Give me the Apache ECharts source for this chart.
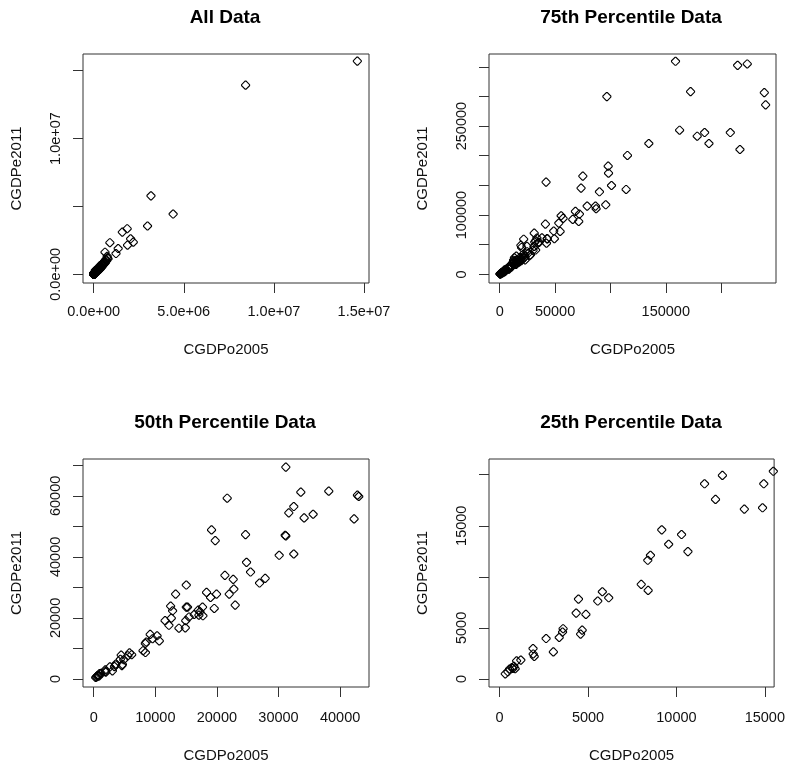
<!DOCTYPE html>
<html><head><meta charset="utf-8">
<script src="https://cdn.jsdelivr.net/npm/echarts@6/dist/echarts.min.js"></script>
<style>html,body{margin:0;padding:0;background:#fff}#c{width:788px;height:769px}</style>
</head><body><div id="c"></div>
<script>
const panelTitles = ['All Data', '75th Percentile Data', '50th Percentile Data', '25th Percentile Data'];
const xName = 'CGDPo2005';
const yName = 'CGDPe2011';

// [CGDPo2005, CGDPe2011] — countries with CGDPo2005 up to ~15,500
const smallPts = [
  [320, 500], [470, 700], [560, 980], [690, 1110], [750, 1020], [810, 1240], [880, 1000],
  [960, 1770], [1200, 1850], [1890, 2980], [1900, 2450], [1960, 2200], [2630, 3960],
  [3040, 2650], [3370, 4060], [3560, 4600], [3590, 4920], [4330, 6450], [4460, 7820],
  [4580, 4390], [4670, 4780], [4880, 6320], [5550, 7630], [5810, 8540], [6170, 7950],
  [8010, 9260], [8380, 11620], [8400, 8670], [8530, 12110], [9170, 14600], [9560, 13190],
  [10290, 14140], [10650, 12470], [11590, 19110], [12210, 17580], [12600, 19930],
  [13840, 16630], [14870, 16760], [14940, 19110], [15480, 20330],
  [12490, 23870], [12810, 22340], [13300, 27810], [15030, 30770], [15030, 23540], [15240, 23540]
];
// countries with CGDPo2005 between ~15,500 and ~44,700
const midPts = [
  [16320, 21130], [16970, 22560], [17080, 20910], [17240, 22010], [17670, 23540], [17730, 20700],
  [18320, 28360], [18970, 26720], [19130, 48840], [19570, 23100], [19730, 45330], [19940, 27810],
  [21300, 33950], [21670, 59240], [22000, 27810], [22650, 32630], [22750, 29460], [22970, 24200],
  [24650, 47300], [24810, 38220], [25460, 35040], [26920, 31430], [27840, 32960], [30110, 40520],
  [31080, 47090], [31190, 46870], [31190, 69420], [31670, 54420], [32480, 56500], [32480, 40950],
  [33620, 61210], [34160, 52780], [35620, 53980], [38160, 61540], [42270, 52450], [42810, 60230],
  [43030, 59790], [41300, 84700], [41900, 155500]
];
// countries with CGDPo2005 between ~44,700 and ~250,000
const largePts = [
  [48800, 73000], [49400, 60000], [53400, 86400], [54600, 72400], [55500, 98800], [57300, 94300],
  [66000, 92600], [68400, 106100], [71400, 89200], [72000, 101600], [73500, 145400], [75100, 165600],
  [79000, 115100], [86500, 115100], [87100, 110600], [90100, 139200], [95800, 117300], [96800, 299700],
  [98000, 182400], [98300, 170600], [101000, 149800], [114200, 143100], [115400, 200400],
  [134700, 220600], [158800, 359200], [162500, 243000], [172400, 308100], [178400, 232900],
  [185100, 239100], [189000, 220600], [208300, 239100], [214900, 352400], [217000, 210500],
  [220300, 373000], [223600, 354700], [239000, 306400], [240200, 285700]
];
// countries with CGDPo2005 above ~250,000
const hugePts = [
  [260000, 300000], [270000, 390000], [280000, 460000], [285000, 330000], [300000, 420000],
  [310000, 360000], [330000, 470000], [345000, 520000], [350000, 640000], [360000, 400000],
  [380000, 560000], [400000, 480000], [410000, 620000], [430000, 700000], [450000, 540000],
  [470000, 760000], [490000, 640000], [520000, 820000], [540000, 700000], [560000, 900000],
  [590000, 780000], [620000, 980000], [650000, 860000], [680000, 1100000], [720000, 1000000],
  [760000, 1210000], [800000, 1150000], [630000, 1630000], [750000, 1330000], [900000, 2330000],
  [1240000, 1530000], [1360000, 1900000], [1590000, 3110000], [1860000, 3360000],
  [1880000, 2150000], [2050000, 2620000], [2200000, 2370000], [2990000, 3560000],
  [3180000, 5780000], [4410000, 4440000], [8430000, 13930000], [14630000, 15700000]
];

const xTicks = [
  [0, 5e6, 1e7, 1.5e7],
  [0, 50000, 100000, 150000, 200000],
  [0, 10000, 20000, 30000, 40000],
  [0, 5000, 10000, 15000]
];
const xLabelVals = [
  [0, 5e6, 1e7, 1.5e7],
  [0, 50000, 150000],
  [0, 10000, 20000, 30000, 40000],
  [0, 5000, 10000, 15000]
];
const xLabelTexts = [
  ['0.0e+00', '5.0e+06', '1.0e+07', '1.5e+07'],
  ['0', '50000', '150000'],
  ['0', '10000', '20000', '30000', '40000'],
  ['0', '5000', '10000', '15000']
];
const yTicks = [
  [0, 5e6, 1e7, 1.5e7],
  [0, 50000, 100000, 150000, 200000, 250000, 300000, 350000],
  [0, 10000, 20000, 30000, 40000, 50000, 60000, 70000],
  [0, 5000, 10000, 15000, 20000]
];
const yLabelVals = [
  [0, 1e7],
  [0, 100000, 250000],
  [0, 20000, 40000, 60000],
  [0, 5000, 15000]
];
const yLabelTexts = [
  ['0.0e+00', '1.0e+07'],
  ['0', '100000', '250000'],
  ['0', '20000', '40000', '60000'],
  ['0', '5000', '15000']
];

// plot-region extents (R adds 4% padding on each side)
const xRange = [[-591000, 15277000], [-9645, 249560], [-1735, 44690], [-600, 15525]];
const yRange = [[-637000, 16225000], [-14590, 371500], [-2630, 72080], [-786, 21536]];

const panelData = [
  smallPts.concat(midPts, largePts, hugePts),
  smallPts.concat(midPts, largePts),
  smallPts.concat(midPts),
  smallPts
];

const grids = [
  {left: 83, top: 54, width: 286, height: 229},
  {left: 489, top: 54, width: 287, height: 229},
  {left: 83, top: 459, width: 286, height: 228},
  {left: 489, top: 459, width: 287, height: 228}
];
const xLabelMargin = [21, 21, 23, 23];
const xNameGap = [59, 59, 61, 61];
const titlePos = [[225, 8], [631, 8], [225, 413], [631, 413]];

const font = '"Liberation Sans", Arial, sans-serif';
const lineCol = '#333';
const markerPath = 'path://M3.5,0 L4.5,0 L8,3.5 L8,4.5 L4.5,8 L3.5,8 L0,4.5 L0,3.5 Z';

const option = {
  animation: false,
  backgroundColor: '#fff',
  title: panelTitles.map((t, i) => ({
    text: t, left: titlePos[i][0], top: titlePos[i][1], textAlign: 'center', padding: 0,
    textStyle: {fontFamily: font, fontSize: 19, fontWeight: 'bold', color: '#000'}
  })),
  grid: grids.map(g => Object.assign({show: true, borderColor: lineCol, borderWidth: 1, backgroundColor: 'transparent', containLabel: false}, g)),
  xAxis: grids.map((g, i) => ({
    type: 'value', gridIndex: i, min: xRange[i][0], max: xRange[i][1],
    name: xName, nameLocation: 'middle', nameGap: xNameGap[i],
    nameTextStyle: {fontFamily: font, fontSize: 15, color: '#111'},
    axisLine: {show: false, onZero: false},
    axisTick: {show: true, inside: false, length: 10, customValues: xTicks[i], lineStyle: {color: lineCol, width: 1}},
    axisLabel: {show: true, margin: xLabelMargin[i], customValues: xLabelVals[i], fontFamily: font, fontSize: 14.5, color: '#111',
      formatter: v => { const k = xLabelVals[i].indexOf(v); return k >= 0 ? xLabelTexts[i][k] : ''; }},
    splitLine: {show: false}
  })),
  yAxis: grids.map((g, i) => ({
    type: 'value', gridIndex: i, min: yRange[i][0], max: yRange[i][1],
    name: yName, nameLocation: 'middle', nameGap: 59,
    nameTextStyle: {fontFamily: font, fontSize: 15, color: '#111'},
    axisLine: {show: false, onZero: false},
    axisTick: {show: true, inside: false, length: 10, customValues: yTicks[i], lineStyle: {color: lineCol, width: 1}},
    axisLabel: {show: true, rotate: 90, margin: 20, customValues: yLabelVals[i], fontFamily: font, fontSize: 14.5, color: '#111',
      formatter: v => { const k = yLabelVals[i].indexOf(v); return k >= 0 ? yLabelTexts[i][k] : ''; }},
    splitLine: {show: false}
  })),
  series: panelData.map((d, i) => ({
    type: 'scatter', xAxisIndex: i, yAxisIndex: i, data: d, clip: true,
    symbol: markerPath, symbolSize: 8, symbolKeepAspect: true,
    itemStyle: {color: 'rgba(0,0,0,0)', borderColor: '#000', borderWidth: 1.1, opacity: 1},
    emphasis: {disabled: true}, silent: true
  }))
};
const chart = echarts.init(document.getElementById('c'), null, {renderer: 'canvas'});
chart.setOption(option);
</script>
</body></html>
